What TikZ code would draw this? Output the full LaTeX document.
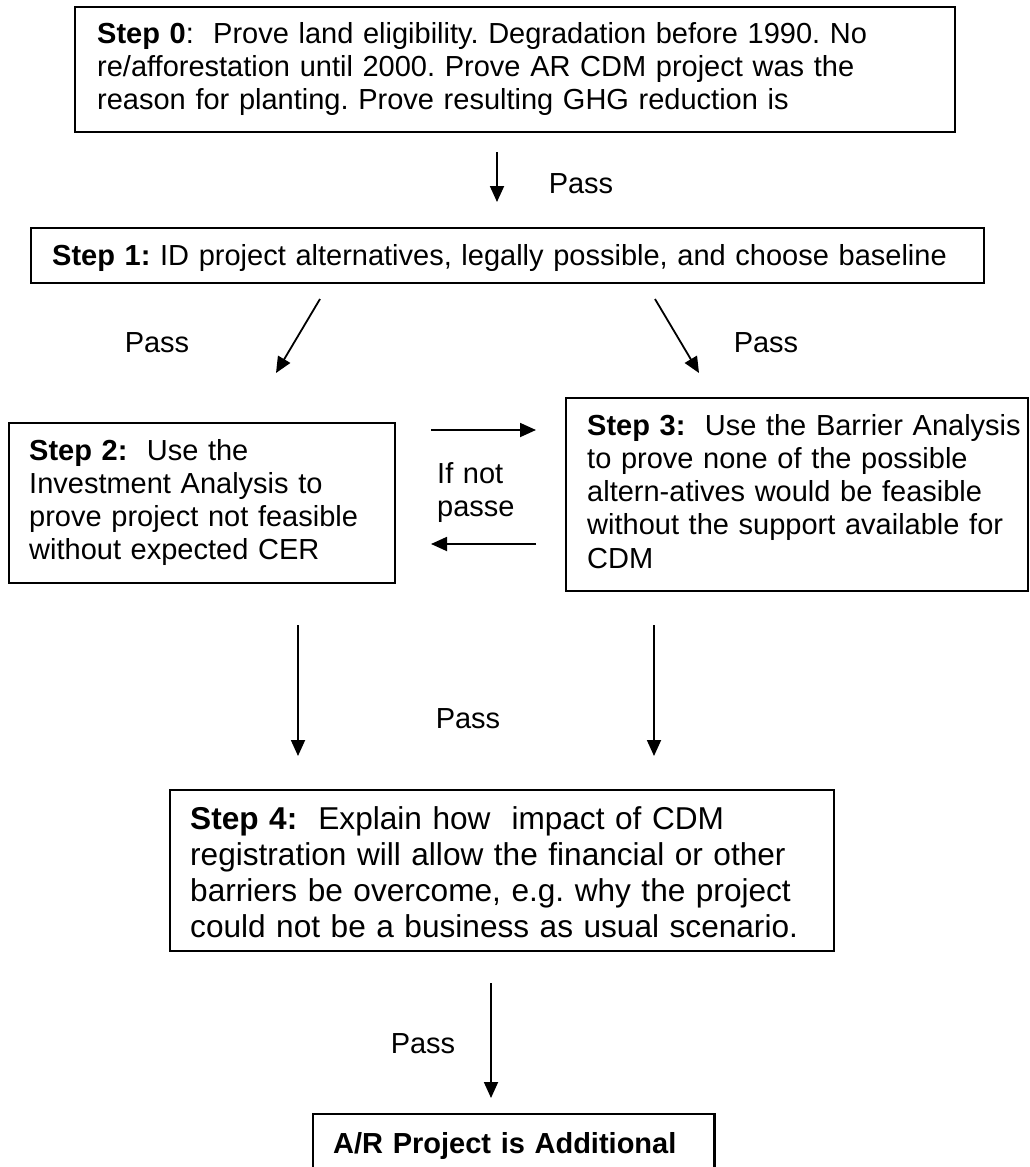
\documentclass[tikz,border=0pt]{standalone}
\usepackage{fontspec}
\setmainfont{Liberation Sans}
\usetikzlibrary{arrows.meta}
\begin{document}
\frenchspacing
\begin{tikzpicture}[x=1pt,y=-1pt,
  box/.style={draw, line width=2.2pt, inner sep=0pt, anchor=north west},
  openbox/.style={inner sep=0pt, anchor=north west},
  txt/.style={inner sep=0pt, anchor=base west, align=left, text width=#1,
    font=\fontsize{29}{33.3}\selectfont},
  txtbig/.style={inner sep=0pt, anchor=base west, align=left, text width=#1,
    font=\fontsize{31.6}{36.3}\selectfont},
  lbl/.style={inner sep=0pt, anchor=base, font=\fontsize{29}{33.3}\selectfont},
  arr/.style={-{Triangle[length=16pt,width=14pt]}, line width=1.8pt}]
\fill[white] (0,0) rectangle (1029,1167);
\useasboundingbox (0,0) rectangle (1029,1167);

% boxes
\node[box, minimum width=880pt, minimum height=125pt] (b0) at (74,6) {};
\node[box, minimum width=953pt, minimum height=55pt] (b1) at (30,227) {};
\node[box, minimum width=386pt, minimum height=160pt] (b2) at (8,422) {};
\node[box, minimum width=462pt, minimum height=193pt] (b3) at (565,397) {};
\node[box, minimum width=664pt, minimum height=161pt] (b4) at (169,789) {};
\node[openbox, minimum width=401pt, minimum height=60pt] (b5) at (313,1114) {};
\draw[line width=2.2pt] (b5.south west) -- (b5.north west) -- (b5.north east) -- (b5.south east);

% texts
\node[txt=900pt] (t0) at (97,43) {\textbf{Step 0}:\ \ Prove land eligibility. Degradation before 1990. No\\
re/afforestation until 2000. Prove AR CDM project was the\\
reason for planting. Prove resulting GHG reduction is};
\node[txt=940pt] (t1) at (52,265) {\textbf{Step 1:} ID project alternatives, legally possible, and choose baseline};
\node[txt=370pt] (t2) at (29,460) {\textbf{Step 2:}\ \ Use the\\
Investment Analysis to\\
prove project not feasible\\
without expected CER};
\node[txt=440pt] (t3) at (587,435) {\textbf{Step 3:}\ \ Use the Barrier Analysis\\
to prove none of the possible\\
altern-atives would be feasible\\
without the support available for\\
CDM};
\node[txtbig=640pt] (t4) at (190,829) {\textbf{Step 4:}\ \ Explain how\ \ impact of CDM\\
registration will allow the financial or other\\
barriers be overcome, e.g. why the project\\
could not be a business as usual scenario.};
\node[txt=390pt, font=\fontsize{29}{33.3}\selectfont\bfseries] (t5) at (333,1153) {A/R Project is Additional};

% arrow end points
\coordinate (a0s) at (497,152);  \coordinate (a0e) at (497,202);
\coordinate (dls) at (320,299);  \coordinate (dle) at (276,373);
\coordinate (drs) at (655,299);  \coordinate (dre) at (699,373);
\coordinate (hrs) at (431,430);  \coordinate (hre) at (536,430);
\coordinate (hls) at (536,544);  \coordinate (hle) at (431,544);
\coordinate (vls) at (298,625);  \coordinate (vle) at (298,756);
\coordinate (vrs) at (654,625);  \coordinate (vre) at (654,756);
\coordinate (afs) at (491,983);  \coordinate (afe) at (491,1098);

\draw[arr] (a0s) -- (a0e);
\draw[arr] (dls) -- (dle);
\draw[arr] (drs) -- (dre);
\draw[arr] (hrs) -- (hre);
\draw[arr] (hls) -- (hle);
\draw[arr] (vls) -- (vle);
\draw[arr] (vrs) -- (vre);
\draw[arr] (afs) -- (afe);

% labels
\node[lbl] (p0) at (581,193) {Pass};
\node[lbl] (p1) at (157,352) {Pass};
\node[lbl] (p2) at (766,352) {Pass};
\node[lbl] (p3) at (468,728) {Pass};
\node[lbl] (p4) at (423,1053) {Pass};
\node[txt=100pt] (ifn) at (437,483) {If not\\passe};
\end{tikzpicture}
\end{document}
